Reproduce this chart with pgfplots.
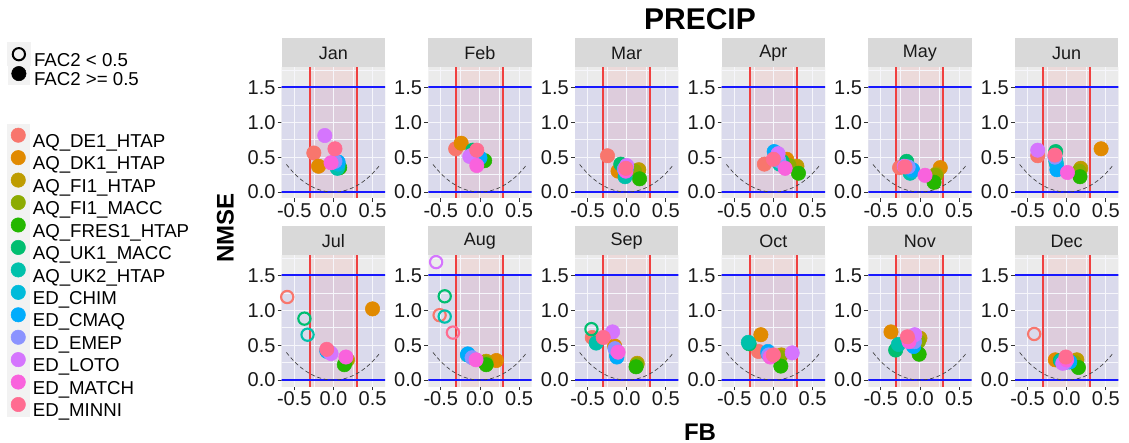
\documentclass[border=0pt]{standalone}
\usepackage{pgfplots}
\pgfplotsset{compat=1.18}
\usepackage{pgfplotstable}
\usepackage{fontspec}
\setmainfont{Liberation Sans}

\definecolor{cA}{HTML}{F8766D}
\definecolor{cB}{HTML}{E18A00}
\definecolor{cC}{HTML}{BE9C00}
\definecolor{cD}{HTML}{8CAB00}
\definecolor{cE}{HTML}{24B700}
\definecolor{cF}{HTML}{00BE70}
\definecolor{cG}{HTML}{00C1AB}
\definecolor{cH}{HTML}{00BBDA}
\definecolor{cI}{HTML}{00ACFC}
\definecolor{cJ}{HTML}{8B93FF}
\definecolor{cK}{HTML}{D575FE}
\definecolor{cL}{HTML}{F962DD}
\definecolor{cM}{HTML}{FF6C91}
\definecolor{ggbg}{HTML}{EBEBEB}
\definecolor{strip}{HTML}{D9D9D9}
\definecolor{keybg}{HTML}{F2F2F2}
% shaded bands, already blended over the grey panel
\definecolor{bandblue}{HTML}{DADAEC}
\definecolor{bandred}{HTML}{ECDADA}
\definecolor{bandboth}{HTML}{DDCCDC}
\definecolor{gridw}{HTML}{F6F6FB}
\definecolor{limred}{HTML}{F04040}
\definecolor{limblue}{HTML}{1818FF}

% lower bound of NMSE for a given FB
\pgfplotstableread{
x y
-0.60 0.3956
-0.55 0.3273
-0.50 0.2667
-0.45 0.2133
-0.40 0.1667
-0.35 0.1264
-0.30 0.0921
-0.25 0.0635
-0.20 0.0404
-0.15 0.0226
-0.10 0.0100
-0.05 0.0025
0.00 0.0000
0.05 0.0025
0.10 0.0100
0.15 0.0226
0.20 0.0404
0.25 0.0635
0.30 0.0921
0.35 0.1264
0.40 0.1667
0.45 0.2133
0.50 0.2667
0.55 0.3273
0.60 0.3956
}\curve

% c: model (A..M), suffix o = FAC2 < 0.5
\pgfplotstableread{
x y c
-0.25 0.56 A
-0.19 0.37 B
0.04 0.38 C
0.05 0.37 D
0.08 0.35 E
0.06 0.36 F
0.05 0.34 G
0.06 0.40 H
0.06 0.43 I
0.02 0.44 J
-0.11 0.81 K
-0.03 0.42 L
0.02 0.62 M
}\jan
\pgfplotstableread{
x y c
-0.31 0.62 A
-0.24 0.70 B
-0.03 0.52 C
-0.06 0.55 D
0.06 0.45 E
-0.09 0.60 F
-0.05 0.50 G
-0.02 0.48 H
0.00 0.49 I
-0.10 0.53 J
-0.13 0.51 K
-0.04 0.38 L
-0.04 0.60 M
}\feb
\pgfplotstableread{
x y c
-0.245 0.52 A
-0.11 0.30 B
0.155 0.32 C
0.10 0.30 D
0.165 0.19 E
-0.075 0.40 F
-0.02 0.22 G
-0.02 0.30 H
0.00 0.35 I
-0.03 0.33 J
0.00 0.38 K
-0.01 0.30 L
-0.01 0.34 M
}\mar
\pgfplotstableread{
x y c
-0.115 0.40 A
0.17 0.47 B
0.30 0.37 C
0.20 0.38 D
0.32 0.27 E
0.11 0.44 F
0.08 0.40 G
0.03 0.52 H
0.01 0.58 I
0.07 0.45 J
0.06 0.55 K
0.15 0.34 L
0.00 0.47 M
}\apr
\pgfplotstableread{
x y c
-0.26 0.35 A
0.26 0.35 B
0.21 0.26 C
0.20 0.24 D
0.18 0.14 E
-0.17 0.44 F
-0.125 0.27 G
-0.10 0.30 H
-0.095 0.32 I
-0.15 0.36 J
-0.20 0.37 K
0.065 0.24 L
-0.19 0.36 M
}\may
\pgfplotstableread{
x y c
-0.37 0.52 A
0.44 0.62 B
0.18 0.34 C
0.16 0.30 D
0.17 0.22 E
-0.14 0.58 F
-0.14 0.45 G
-0.13 0.40 H
-0.125 0.32 I
-0.15 0.50 J
-0.37 0.60 K
0.01 0.28 L
-0.15 0.53 M
}\jun
\pgfplotstableread{
x y c
-0.59 1.19 Ao
0.50 1.02 B
0.18 0.29 C
0.16 0.27 D
0.14 0.22 E
-0.37 0.88 Fo
-0.33 0.65 Go
-0.08 0.41 H
-0.085 0.42 I
-0.05 0.40 J
-0.03 0.38 K
0.16 0.33 L
-0.085 0.44 M
}\jul
\pgfplotstableread{
x y c
-0.515 0.93 Ao
0.21 0.28 B
0.08 0.27 C
0.07 0.25 D
0.08 0.22 E
-0.45 1.20 Fo
-0.45 0.91 Go
-0.16 0.36 H
-0.155 0.375 I
-0.10 0.32 J
-0.56 1.69 Ko
-0.05 0.29 L
-0.345 0.68 Mo
}\aug
\pgfplotstableread{
x y c
-0.44 0.61 A
-0.155 0.49 B
0.135 0.24 C
0.13 0.22 D
0.12 0.19 E
-0.45 0.73 Fo
-0.39 0.53 G
-0.13 0.36 H
-0.125 0.33 I
-0.15 0.45 J
-0.18 0.69 K
-0.11 0.40 L
-0.30 0.61 M
}\sep
\pgfplotstableread{
x y c
-0.19 0.41 A
-0.16 0.65 B
0.10 0.36 C
0.08 0.33 D
0.095 0.20 E
-0.31 0.52 F
-0.32 0.54 G
-0.07 0.38 H
-0.07 0.41 I
-0.06 0.36 J
0.24 0.39 K
-0.04 0.33 L
0.00 0.36 M
}\oct
\pgfplotstableread{
x y c
-0.15 0.58 A
-0.37 0.69 B
0.00 0.60 C
-0.02 0.55 D
-0.01 0.37 E
-0.31 0.43 F
-0.275 0.51 G
-0.09 0.50 H
-0.08 0.48 I
-0.07 0.55 J
-0.065 0.65 K
-0.14 0.55 L
-0.16 0.62 M
}\nov
\pgfplotstableread{
x y c
-0.415 0.66 Ao
-0.145 0.29 B
0.13 0.29 C
0.10 0.25 D
0.15 0.18 E
-0.08 0.28 F
-0.07 0.27 G
0.02 0.27 H
0.04 0.26 I
-0.02 0.25 J
-0.05 0.24 K
0.00 0.29 L
-0.01 0.33 M
}\dec

\pgfplotsset{
  ptclasses/.style={scatter/classes={
    A={mark=*,draw=cA,fill=cA}, B={mark=*,draw=cB,fill=cB},
    C={mark=*,draw=cC,fill=cC}, D={mark=*,draw=cD,fill=cD},
    E={mark=*,draw=cE,fill=cE}, F={mark=*,draw=cF,fill=cF},
    G={mark=*,draw=cG,fill=cG}, H={mark=*,draw=cH,fill=cH},
    I={mark=*,draw=cI,fill=cI}, J={mark=*,draw=cJ,fill=cJ},
    K={mark=*,draw=cK,fill=cK}, L={mark=*,draw=cL,fill=cL},
    M={mark=*,draw=cM,fill=cM},
    Ao={mark=o,draw=cA,line width=1.6pt,mark size=4.6pt},
    Fo={mark=o,draw=cF,line width=1.6pt,mark size=4.6pt},
    Go={mark=o,draw=cG,line width=1.6pt,mark size=4.6pt},
    Ko={mark=o,draw=cK,line width=1.6pt,mark size=4.6pt},
    Mo={mark=o,draw=cM,line width=1.6pt,mark size=4.6pt}}},
  ggpanel/.style={
    anchor=south west, scale only axis, width=77.5pt, height=97.9pt,
    xmin=-0.66, xmax=0.66, ymin=-0.085, ymax=1.785,
    axis line style={draw=none},
    xtick={-0.5,0,0.5}, xticklabels={-0.5,0.0,0.5},
    ytick={0,0.5,1,1.5}, yticklabels={0.0,0.5,1.0,1.5},
    xtick pos=left, ytick pos=left,
    tick align=outside, major tick length=3pt,
    tick style={black!80, line width=0.6pt},
    ticklabel style={font=\fontsize{15}{17}\selectfont, text=black!90},
    xticklabel style={inner sep=1pt},
    yticklabel style={inner sep=1.5pt},
    unbounded coords=jump,
    mark size=5.4pt,
    every axis title/.style={at={(0.5,1)}, anchor=south, fill=strip,
      inner sep=0pt, outer sep=0pt, minimum width=77.5pt, minimum height=21.75pt,
      font=\fontsize{13.5}{16}\selectfont, text=black!90},
  },
  keylegend/.style={
    hide axis, scale only axis, width=10pt, height=10pt,
    xmin=0, xmax=1, ymin=0, ymax=1, anchor=north west,
    legend cell align=left,
    legend style={at={(0,1)}, anchor=north west, draw=none, fill=none,
      inner sep=0pt, outer sep=0pt, column sep=2.5pt,
      font=\fontsize{14}{16}\selectfont, nodes={inner sep=0pt}},
  },
}

\newcommand{\panel}[4]{%
\begin{axis}[ggpanel, at={(#1,#2)}, title={#3}]
  % panel background and the two shaded bands (opaque, pre-blended)
  \addplot[draw=none, fill=ggbg] coordinates {(-0.7,-0.2) (0.7,-0.2) (0.7,1.9) (-0.7,1.9)};
  \addplot[draw=none, fill=bandblue] coordinates {(-0.7,0) (0.7,0) (0.7,1.5) (-0.7,1.5)};
  \addplot[draw=none, fill=bandred] coordinates {(-0.3,-0.2) (0.3,-0.2) (0.3,1.9) (-0.3,1.9)};
  \addplot[draw=none, fill=bandboth] coordinates {(-0.3,0) (0.3,0) (0.3,1.5) (-0.3,1.5)};
  % grid
  \addplot[gridw, line width=0.4pt] coordinates {(-0.25,-0.2) (-0.25,1.9) (nan,nan) (0.25,-0.2) (0.25,1.9)
    (nan,nan) (-0.7,0.25) (0.7,0.25) (nan,nan) (-0.7,0.75) (0.7,0.75)
    (nan,nan) (-0.7,1.25) (0.7,1.25) (nan,nan) (-0.7,1.75) (0.7,1.75)};
  \addplot[gridw, line width=0.8pt] coordinates {(-0.5,-0.2) (-0.5,1.9) (nan,nan) (0,-0.2) (0,1.9)
    (nan,nan) (0.5,-0.2) (0.5,1.9) (nan,nan) (-0.7,0.5) (0.7,0.5) (nan,nan) (-0.7,1) (0.7,1)};
  % FB = +-0.3 and NMSE = 0, 1.5 limits
  \addplot[limred, line width=1.5pt] coordinates {(-0.3,-0.2) (-0.3,1.9)};
  \addplot[limred, line width=1.5pt] coordinates {(0.3,-0.2) (0.3,1.9)};
  \addplot[limblue, line width=1.3pt] coordinates {(-0.7,0) (0.7,0)};
  \addplot[limblue, line width=1.3pt] coordinates {(-0.7,1.5) (0.7,1.5)};
  \addplot[black!75, line width=0.5pt, dash pattern=on 3pt off 2pt] table {\curve};
  \addplot[scatter, only marks, scatter src=explicit symbolic, ptclasses] table[meta=c] {#4};
\end{axis}}

\begin{document}
\begin{tikzpicture}
\useasboundingbox (0pt,0pt) rectangle (846.75pt,332.25pt);

\panel{211.3pt}{183.75pt}{Jan}{\jan}
\panel{321.2pt}{183.75pt}{Feb}{\feb}
\panel{431.25pt}{183.75pt}{Mar}{\mar}
\panel{541.3pt}{183.75pt}{Apr}{\apr}
\panel{651.2pt}{183.75pt}{May}{\may}
\panel{761.25pt}{183.75pt}{Jun}{\jun}
\panel{211.3pt}{42.75pt}{Jul}{\jul}
\panel{321.2pt}{42.75pt}{Aug}{\aug}
\panel{431.25pt}{42.75pt}{Sep}{\sep}
\panel{541.3pt}{42.75pt}{Oct}{\oct}
\panel{651.2pt}{42.75pt}{Nov}{\nov}
\panel{761.25pt}{42.75pt}{Dec}{\dec}

% FAC2 legend
\begin{axis}[keylegend, at={(5.25pt,300.5pt)},
  legend style={row sep=-4.4pt},
  legend image code/.code={
    \fill[keybg] (0pt,-3.2pt) rectangle (16.3pt,13.1pt);
    \draw[#1] plot coordinates {(8.15pt,4.95pt)};
  }]
  \addlegendimage{mark=o, draw=black, line width=1.5pt, mark size=4.6pt}
  \addlegendentry{FAC2 < 0.5}
  \addlegendimage{mark=*, draw=black, fill=black, mark size=5.4pt}
  \addlegendentry{FAC2 >= 0.5}
\end{axis}

% model legend
\begin{axis}[keylegend, at={(5.25pt,239.55pt)},
  legend style={row sep=-2.45pt},
  legend image code/.code={
    \fill[keybg] (0pt,-3.55pt) rectangle (16.5pt,13.45pt);
    \draw[#1] plot coordinates {(8.25pt,4.95pt)};
  }]
  \addlegendimage{mark=*, draw=cA, fill=cA, mark size=5.4pt}\addlegendentry{AQ\_DE1\_HTAP}
  \addlegendimage{mark=*, draw=cB, fill=cB, mark size=5.4pt}\addlegendentry{AQ\_DK1\_HTAP}
  \addlegendimage{mark=*, draw=cC, fill=cC, mark size=5.4pt}\addlegendentry{AQ\_FI1\_HTAP}
  \addlegendimage{mark=*, draw=cD, fill=cD, mark size=5.4pt}\addlegendentry{AQ\_FI1\_MACC}
  \addlegendimage{mark=*, draw=cE, fill=cE, mark size=5.4pt}\addlegendentry{AQ\_FRES1\_HTAP}
  \addlegendimage{mark=*, draw=cF, fill=cF, mark size=5.4pt}\addlegendentry{AQ\_UK1\_MACC}
  \addlegendimage{mark=*, draw=cG, fill=cG, mark size=5.4pt}\addlegendentry{AQ\_UK2\_HTAP}
  \addlegendimage{mark=*, draw=cH, fill=cH, mark size=5.4pt}\addlegendentry{ED\_CHIM}
  \addlegendimage{mark=*, draw=cI, fill=cI, mark size=5.4pt}\addlegendentry{ED\_CMAQ}
  \addlegendimage{mark=*, draw=cJ, fill=cJ, mark size=5.4pt}\addlegendentry{ED\_EMEP}
  \addlegendimage{mark=*, draw=cK, fill=cK, mark size=5.4pt}\addlegendentry{ED\_LOTO}
  \addlegendimage{mark=*, draw=cL, fill=cL, mark size=5.4pt}\addlegendentry{ED\_MATCH}
  \addlegendimage{mark=*, draw=cM, fill=cM, mark size=5.4pt}\addlegendentry{ED\_MINNI}
\end{axis}

\node[font=\bfseries\fontsize{22.5}{26}\selectfont] at (525pt,317.6pt) {PRECIP};
\node[font=\bfseries\fontsize{18}{20}\selectfont, anchor=base] at (525pt,2.2pt) {FB};
\node[font=\bfseries\fontsize{18}{20}\selectfont, rotate=90] at (169.1pt,161.25pt) {NMSE};
\end{tikzpicture}
\end{document}
